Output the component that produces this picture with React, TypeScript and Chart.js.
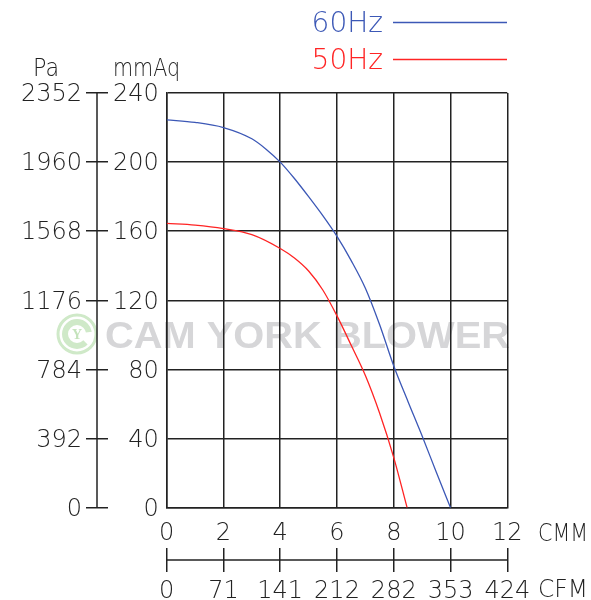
import { useEffect, useRef } from 'react';
import { Chart, registerables } from 'chart.js';

Chart.register(...registerables);

// ---- data ----
const cmm60 = [0, 1, 2, 3, 3.5, 4, 4.5, 5, 5.5, 6, 6.5, 7, 7.5, 8, 8.5, 9, 9.5, 10];
const mmAq60 = [224.5, 223, 220, 213.5, 207.5, 200, 190.5, 180, 169, 157, 143, 127, 106, 82, 61.5, 41.5, 20.5, 0];

const cmm50 = [0, 1, 2, 3, 4, 4.5, 5, 5.5, 6, 6.5, 7, 7.5, 8, 8.47];
const mmAq50 = [164.5, 163.5, 161.5, 158, 150, 144.5, 137, 126, 111, 94, 76.5, 54.8, 29, 0];

const seriesLabels = ['60Hz', '50Hz'];
const seriesColors = ['#3c58b6', '#ff2424'];

const cfmLabels = ['0', '71', '141', '212', '282', '353', '424'];
const paLabels = ['0', '392', '784', '1176', '1568', '1960', '2352'];
const watermark = 'CAM YORK BLOWER';

const FONT = '"DejaVu Sans", sans-serif';
const INK = '#222';

const overlayPlugin = {
  id: 'overlay',
  beforeDraw(chart: any) {
    const ctx = chart.ctx;
    ctx.save();
    // logo
    ctx.strokeStyle = '#cfe9c8';
    ctx.lineWidth = 3;
    ctx.beginPath();
    ctx.arc(77, 334, 19, 0, Math.PI * 2);
    ctx.stroke();
    ctx.lineWidth = 6;
    ctx.beginPath();
    ctx.arc(77, 334, 12, Math.PI * 0.25, Math.PI * 1.95);
    ctx.stroke();
    ctx.fillStyle = '#c4e3bb';
    ctx.font = 'bold 14px "Liberation Serif", serif';
    ctx.textAlign = 'center';
    ctx.textBaseline = 'middle';
    ctx.fillText('Y', 77, 335);
    // watermark text
    ctx.fillStyle = '#d6d6d8';
    ctx.font = 'bold 37px "Liberation Sans", Arial, sans-serif';
    ctx.textAlign = 'left';
    ctx.textBaseline = 'alphabetic';
    const w = ctx.measureText(watermark).width;
    ctx.translate(105, 348);
    ctx.scale(405 / w, 1);
    ctx.fillText(watermark, 0, 0);
    ctx.restore();
  },
  afterDraw(chart: any) {
    const ctx = chart.ctx;
    const y2 = chart.scales.y2;
    const x2 = chart.scales.x2;
    ctx.save();
    ctx.strokeStyle = INK;
    ctx.lineWidth = 1.5;
    // Pa axis line
    const ax = y2.right - 11;
    ctx.beginPath();
    ctx.moveTo(ax, y2.getPixelForValue(2352));
    ctx.lineTo(ax, y2.getPixelForValue(0));
    ctx.stroke();
    // CFM axis line
    const ay = x2.top + 12;
    ctx.beginPath();
    ctx.moveTo(x2.getPixelForValue(0), ay);
    ctx.lineTo(x2.getPixelForValue(12), ay);
    ctx.stroke();

    // headers
    ctx.fillStyle = INK;
    ctx.font = `200 25px ${FONT}`;
    ctx.textBaseline = 'middle';
    ctx.textAlign = 'left';
    ctx.fillText('Pa', 33, 69, 26);
    ctx.fillText('mmAq', 113, 69, 67);
    ctx.font = `200 24px ${FONT}`;
    ctx.fillText('CMM', 538, 535, 50);
    ctx.fillText('CFM', 538, 591, 50);

    // legend
    ctx.font = `200 28px ${FONT}`;
    const rows = [22, 59];
    chart.data.datasets.forEach((ds: any, i: number) => {
      const yy = rows[i];
      ctx.fillStyle = ds.borderColor;
      ctx.textAlign = 'right';
      ctx.fillText(ds.label, 383, yy + 3);
      ctx.strokeStyle = ds.borderColor;
      ctx.lineWidth = 1.3;
      ctx.beginPath();
      ctx.moveTo(393, yy + 0.5);
      ctx.lineTo(507, yy + 0.5);
      ctx.stroke();
    });
    ctx.restore();
  },
};

export default function App() {
  const ref = useRef<HTMLCanvasElement | null>(null);

  useEffect(() => {
    if (!ref.current) return;
    const tickFont = { family: FONT, size: 24, weight: '200' as any };
    const chart = new Chart(ref.current, {
      type: 'line',
      data: {
        datasets: [
          {
            label: seriesLabels[0],
            data: cmm60.map((v, i) => ({ x: v, y: mmAq60[i] })),
            borderColor: seriesColors[0],
            borderWidth: 1.3,
            pointRadius: 0,
            cubicInterpolationMode: 'monotone',
            xAxisID: 'x',
            yAxisID: 'y',
          },
          {
            label: seriesLabels[1],
            data: cmm50.map((v, i) => ({ x: v, y: mmAq50[i] })),
            borderColor: seriesColors[1],
            borderWidth: 1.3,
            pointRadius: 0,
            cubicInterpolationMode: 'monotone',
            xAxisID: 'x',
            yAxisID: 'y',
          },
        ],
      },
      options: {
        responsive: false,
        animation: false,
        layout: { padding: { left: 0, top: 93, right: 83.7, bottom: 0 } },
        plugins: { legend: { display: false }, tooltip: { enabled: false } },
        scales: {
          x: {
            type: 'linear',
            position: 'bottom',
            weight: 0,
            min: 0,
            max: 12,
            ticks: { stepSize: 2, padding: 12, font: tickFont, color: INK, maxRotation: 0 },
            grid: { color: INK, lineWidth: 1.5, drawTicks: false },
            border: { display: true, color: INK, width: 1.5 },
            afterFit: (s: any) => { s.height = 40.3; },
          },
          x2: {
            type: 'linear',
            position: 'bottom',
            weight: 1,
            min: 0,
            max: 12,
            ticks: {
              stepSize: 2,
              padding: 5,
              font: tickFont,
              color: INK,
              maxRotation: 0,
              callback: (_v: any, i: number) => cfmLabels[i],
            },
            grid: { drawOnChartArea: false, drawTicks: true, tickLength: 24, color: INK, lineWidth: 1.5 },
            border: { display: false },
            afterFit: (s: any) => { s.height = 52; },
          },
          y: {
            type: 'linear',
            position: 'left',
            weight: 0,
            min: 0,
            max: 240,
            ticks: { stepSize: 40, padding: 8, labelOffset: 2, font: tickFont, color: INK },
            grid: { color: INK, lineWidth: 1.5, drawTicks: false },
            border: { display: true, color: INK, width: 1.5 },
            afterFit: (s: any) => { s.width = 58.7; },
          },
          y2: {
            type: 'linear',
            position: 'left',
            weight: 1,
            min: 0,
            max: 2352,
            ticks: {
              stepSize: 392,
              padding: 4,
              labelOffset: 2,
              font: tickFont,
              color: INK,
              callback: (_v: any, i: number) => paLabels[i],
            },
            grid: { drawOnChartArea: false, drawTicks: true, tickLength: 22, color: INK, lineWidth: 1.5 },
            border: { display: false },
            afterFit: (s: any) => { s.width = 108; },
          },
        },
      } as any,
      plugins: [overlayPlugin],
    });
    return () => chart.destroy();
  }, []);

  return (
    <div style={{ position: 'absolute', left: 0, top: 0, width: 591, height: 600, background: '#fff' }}>
      <canvas ref={ref} width={591} height={600} style={{ display: 'block' }} />
    </div>
  );
}
